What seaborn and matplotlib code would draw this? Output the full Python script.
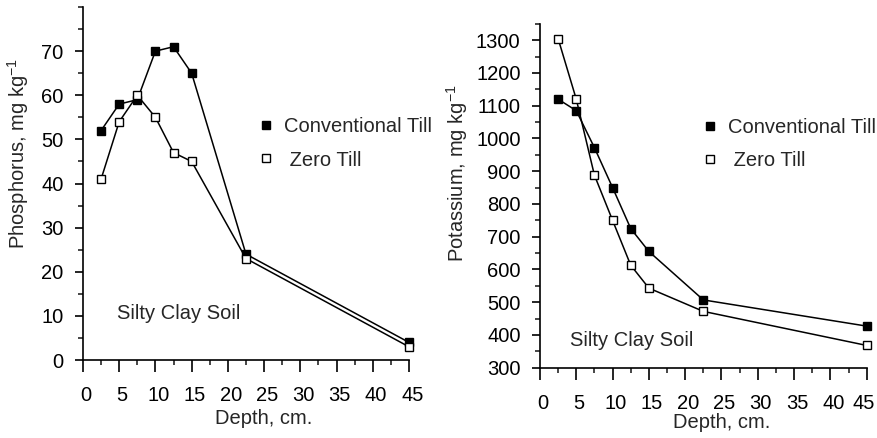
import numpy as np
import pandas as pd
import seaborn as sns
import matplotlib.pyplot as plt
from matplotlib.lines import Line2D
from matplotlib.ticker import MultipleLocator
from matplotlib.transforms import ScaledTranslation

# depth of each sample layer (cm)
depth = [2.5, 5, 7.5, 10, 12.5, 15, 22.5, 45]

# Phosphorus, mg/kg
p_conv = [52, 58, 59, 70, 71, 65, 24, 4]
p_zero = [41, 54, 60, 55, 47, 45, 23, 3]

# Potassium, mg/kg
k_conv = [1120, 1085, 972, 850, 725, 655, 507, 427]
k_zero = [1305, 1120, 888, 750, 613, 543, 472, 368]

x_ticks = [0, 5, 10, 15, 20, 25, 30, 35, 40, 45]

sns.set_style("ticks")
plt.rcParams['font.family'] = ['Liberation Sans', 'DejaVu Sans']
plt.rcParams['mathtext.fontset'] = 'custom'
plt.rcParams['mathtext.rm'] = 'Liberation Sans'
plt.rcParams['mathtext.it'] = 'Liberation Sans'

FS = 14.5

fig = plt.figure(figsize=(8.78, 4.38), dpi=100)
ax1 = fig.add_axes([0.0945, 0.178, 0.3713, 0.806])
ax2 = fig.add_axes([0.615, 0.1605, 0.3721, 0.785])


def draw(ax, conv, zero, ylabel, ylim, ystep, soil_xy, leg_xy, last_shift):
    df = pd.DataFrame({'depth': depth, 'conv': conv, 'zero': zero})
    sns.lineplot(data=df, x='depth', y='conv', ax=ax, color='black', lw=1.1,
                 marker='s', markersize=5.6, markerfacecolor='black',
                 markeredgecolor='black', markeredgewidth=1, clip_on=False)
    sns.lineplot(data=df, x='depth', y='zero', ax=ax, color='black', lw=1.1,
                 marker='s', markersize=5.6, markerfacecolor='white',
                 markeredgecolor='black', markeredgewidth=1, clip_on=False)
    ax.set_xlim(0, 45)
    ax.set_ylim(*ylim)
    ax.set_xticks(x_ticks)
    ax.xaxis.set_minor_locator(MultipleLocator(2.5))
    ax.yaxis.set_minor_locator(MultipleLocator(ystep / 2))
    sns.despine(ax=ax)
    for s in ['left', 'bottom']:
        ax.spines[s].set_linewidth(1.2)
        ax.spines[s].set_color('black')
    ax.tick_params(axis='x', which='major', length=8.6, width=1.2, pad=10,
                   labelsize=FS, colors='black')
    ax.tick_params(axis='x', which='minor', length=3.6, width=1.2)
    ax.tick_params(axis='y', which='major', length=6, width=1.2, pad=8,
                   labelsize=FS, colors='black')
    ax.tick_params(axis='y', which='minor', length=3.4, width=1.2)
    labs = ax.get_xticklabels()
    for i, lab in enumerate(labs):
        dx = last_shift if i == len(labs) - 1 else 3
        lab.set_transform(lab.get_transform() +
                          ScaledTranslation(dx / 100, 0, fig.dpi_scale_trans))
    ax.set_xlabel('Depth, cm.', fontsize=FS)
    ax.set_ylabel(ylabel, fontsize=FS)
    ax.text(soil_xy[0], soil_xy[1], 'Silty Clay Soil', fontsize=FS,
            transform=ax.transAxes, va='center')
    handles = [
        Line2D([], [], ls='none', marker='s', markersize=5.6,
               markerfacecolor='black', markeredgecolor='black'),
        Line2D([], [], ls='none', marker='s', markersize=5.6,
               markerfacecolor='white', markeredgecolor='black'),
    ]
    ax.legend(handles, ['Conventional Till', ' Zero Till'], frameon=False,
              fontsize=FS, loc='upper left', bbox_to_anchor=leg_xy,
              handletextpad=0.4, labelspacing=0.7, borderaxespad=0,
              handlelength=1.0)


draw(ax1, p_conv, p_zero, 'Phosphorus, mg kg$^{-1}$', (0, 80), 10,
     (0.105, 0.131), (0.506, 0.71), 4)
ax1.set_yticks(np.arange(0, 71, 10))
ax1.yaxis.set_label_coords(-0.158, 0.585)
ax1.xaxis.set_label_coords(0.555, -0.139)

draw(ax2, k_conv, k_zero, 'Potassium, mg kg$^{-1}$', (300, 1350), 100,
     (0.093, 0.08), (0.466, 0.75), -3)
ax2.set_yticks(np.arange(300, 1301, 100))
ax2.yaxis.set_label_coords(-0.213, 0.566)
ax2.xaxis.set_label_coords(0.555, -0.132)

fig.savefig('out.png', dpi=100)
